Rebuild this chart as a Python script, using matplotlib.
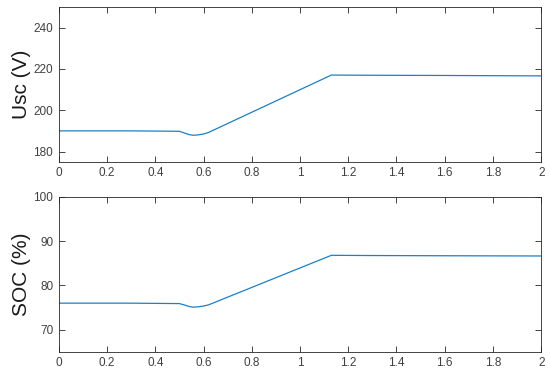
import numpy as np
import matplotlib
matplotlib.use("Agg")
import matplotlib.pyplot as plt

# time (s) and the two traces
t = [0, 0.3, 0.5, 0.52, 0.54, 0.555, 0.575, 0.6, 0.62, 1.13, 1.3, 1.6, 2.0]
usc = [190.0, 190.0, 189.8, 189.0, 188.2, 187.9, 188.0, 188.5, 189.2, 217.0, 216.9, 216.8, 216.6]
soc = [76.0, 76.0, 75.9, 75.6, 75.25, 75.1, 75.15, 75.35, 75.6, 86.8, 86.75, 86.7, 86.65]

xticks = [0, 0.2, 0.4, 0.6, 0.8, 1, 1.2, 1.4, 1.6, 1.8, 2]
xlabels = ["0", "0.2", "0.4", "0.6", "0.8", "1", "1.2", "1.4", "1.6", "1.8", "2"]

plt.rcParams['font.family'] = ['Liberation Sans', 'DejaVu Sans']
line_col = (0.1, 0.5, 0.78)
ax_col = '#262626'
txt_col = '#404040'

fig = plt.figure(figsize=(5.5, 3.8), dpi=100)
ax1 = fig.add_axes([0.107, 0.574, 0.877, 0.408])
ax2 = fig.add_axes([0.107, 0.074, 0.877, 0.408])

def style(ax, ylim, yticks, ylabel):
    ax.set_xlim(0, 2)
    ax.set_ylim(*ylim)
    ax.set_xticks(xticks)
    ax.set_xticklabels(xlabels)
    ax.set_yticks(yticks)
    ax.tick_params(direction='in', top=True, right=True, length=4, width=0.6,
                   labelsize=8.5, colors=ax_col, labelcolor=txt_col, pad=4)
    for s in ax.spines.values():
        s.set_color(ax_col)
        s.set_linewidth(0.6)
    ax.set_ylabel(ylabel, fontsize=15, color='#1a1a1a', labelpad=2)

ax1.plot(t, usc, color=line_col, lw=0.9)
style(ax1, (175, 250), [180, 200, 220, 240], 'Usc (V)')

ax2.plot(t, soc, color=line_col, lw=0.9)
style(ax2, (65, 100), [70, 80, 90, 100], 'SOC (%)')

fig.savefig('out.png', dpi=100)
